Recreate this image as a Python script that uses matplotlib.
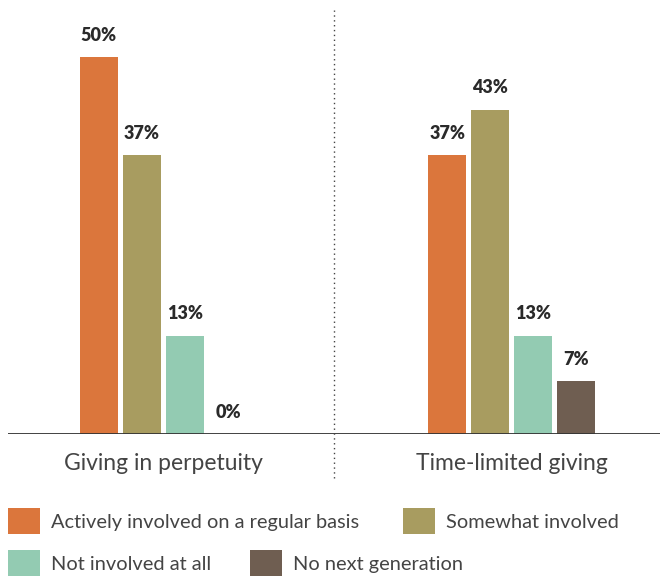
import matplotlib.pyplot as plt
from matplotlib.patches import Patch

categories = ["Giving in perpetuity", "Time-limited giving"]
series_names = ["Actively involved on a regular basis", "Somewhat involved",
                "Not involved at all", "No next generation"]
active = [50, 37]
somewhat = [37, 43]
not_involved = [13, 13]
no_next = [0, 7]
series_values = [active, somewhat, not_involved, no_next]
colors = ["#DB763C", "#A89C60", "#93CBB2", "#6F5E51"]

plt.rcParams['font.family'] = ['Lato', 'DejaVu Sans']
text_color = "#444444"

W, H = 660, 577
fig = plt.figure(figsize=(W / 100, H / 100), dpi=100)
base_px = 434
ax = fig.add_axes([8 / W, 1 - base_px / H, 652 / W, base_px / H])
ax.set_xlim(-0.446, 1.4247)
ax.set_ylim(0, 57.56)
ax.axis('off')

step = 0.1234
width = 0.109
for i, (vals, col) in enumerate(zip(series_values, colors)):
    xs = [g + (i - 1.5) * step for g in range(len(categories))]
    ax.bar(xs, vals, width=width, color=col, linewidth=0)
    for x, v in zip(xs, vals):
        ax.annotate(f"{v}%", (x, v), xytext=(0, 22), textcoords='offset pixels',
                    ha='center', va='center', fontsize=13, fontweight='heavy',
                    color="#2a2a2a")

ax.axhline(0, color="#333333", lw=1.3, xmin=0, xmax=1)
# divider
ax.plot([0.489, 0.489], [-44 / 7.54, (base_px - 10) / 7.54], ls=(0, (1, 2.5)),
        color="#444444", lw=1, clip_on=False)

for g, cat in enumerate(categories):
    ax.annotate(cat, (g, 0), xytext=(0, -29), textcoords='offset pixels',
                ha='center', va='center', fontsize=16.5, fontweight='normal',
                color=text_color, annotation_clip=False)

# legend entries
legend_pos = [(8, 521), (403, 521), (8, 563), (250, 563)]
for name, col, (px, py) in zip(series_names, colors, legend_pos):
    fig.legend(handles=[Patch(facecolor=col, edgecolor='none')], labels=[name],
               loc='center left', bbox_to_anchor=(px / W, 1 - py / H),
               frameon=False, borderpad=0, borderaxespad=0,
               handlelength=1.6, handleheight=1.6, handletextpad=0.55,
               prop={'size': 14.4, 'weight': 'normal'}, labelcolor=text_color)

fig.savefig("out.png", dpi=100)
